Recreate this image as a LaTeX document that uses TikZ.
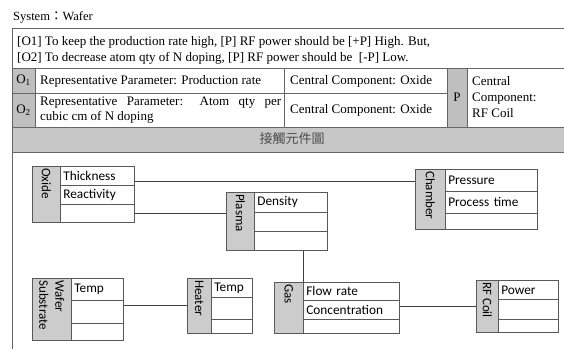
\documentclass[tikz,border=0pt]{standalone}
\usepackage{fontspec}
\setmainfont{Liberation Serif}
\newfontfamily\entfont{Carlito}
\newfontfamily\cjk{Noto Sans CJK TC}
\usepackage{tikz}

\begin{document}
\begin{tikzpicture}[x=1pt,y=-1pt,
		grid/.style={draw=black!60, line width=0.8pt},
		cell/.style={anchor=west, inner sep=0pt, font=\fontsize{13}{15}\selectfont},
		strip/.style={draw=black!65, fill=black!20, anchor=north west, inner sep=0pt, line width=0.7pt},
		row/.style={draw=black!65, anchor=north west, inner xsep=3pt, inner ysep=0pt, align=left, line width=0.7pt, font=\entfont\fontsize{13.3}{15}\selectfont},
		tag/.style={rotate=-90, anchor=west, inner sep=0pt, align=left, font=\entfont\fontsize{13}{16}\selectfont},
		link/.style={draw=black!75, line width=1pt}]
		\useasboundingbox (0,0) rectangle (564,349);

		% Title
		\node[cell, font=\fontsize{12.5}{14}\selectfont] (title) at (13,17) {System{\cjk ：}Wafer};

		% Table shading
		\fill[black!25] (12,68) rectangle (35,127);
		\fill[black!25] (447,68) rectangle (467,127);
		\fill[black!22] (12,127) rectangle (566,152);

		% Table lines
		\draw[grid] (12,349) -- (12,28) -- (566,28);
		\draw[grid] (12,68) -- (566,68);
		\draw[grid] (12,93) -- (447,93);
		\draw[grid] (12,127) -- (566,127);
		\draw[grid] (12,152) -- (566,152);
		\draw[grid] (35,68) -- (35,127);
		\draw[grid] (284,68) -- (284,127);
		\draw[grid] (447,68) -- (447,127);
		\draw[grid] (467,68) -- (467,127);

		% Table texts
		\node[cell, align=left, font=\fontsize{13}{16}\selectfont] (goal) at (17,50) {{[O1]} To keep the production rate high, [P] RF power should be [+P] High. But,\\{[O2]} To decrease atom qty of N doping, [P] RF power should be \ [-P] Low.};
		\node[cell, anchor=center] (o1) at (23.5,80.5) {O\textsubscript{1}};
		\node[cell, anchor=center] (o2) at (23.5,110) {O\textsubscript{2}};
		\node[cell] (par1) at (40,81) {Representative Parameter: Production rate};
		\node[cell, text width=241, align=justify] (par2) at (40,110) {Representative Parameter: Atom qty per\linebreak cubic cm of N doping};
		\node[cell] (comp1) at (290,81) {Central Component: Oxide};
		\node[cell] (comp2) at (290,110) {Central Component: Oxide};
		\node[cell, anchor=center] (p) at (457,97) {P};
		\node[cell, align=left, font=\fontsize{13}{16}\selectfont] (pcomp) at (472,97) {Central\\Component:\\RF Coil};
		\node[font=\cjk\fontsize{13}{15}\selectfont, text=black!70, inner sep=0pt] (header) at (292,139) {接觸元件圖};

		% Oxide
		\node[strip, minimum width=28, minimum height=56] (oxide) at (32,166) {};
		\node[tag] (oxideT) at ([yshift=-2pt]oxide.north) {Oxide};
		\node[row, text width=68, minimum height=19] (ox1) at (60,166) {Thickness};
		\node[row, text width=68, minimum height=19] (ox2) at (60,185) {Reactivity};
		\node[row, text width=68, minimum height=18] (ox3) at (60,204) {};

		% Chamber
		\node[strip, minimum width=30, minimum height=60] (chamber) at (415,169) {};
		\node[tag] (chamberT) at ([yshift=-2pt]chamber.north) {Chamber};
		\node[row, text width=86, minimum height=22] (ch1) at (445,169) {Pressure};
		\node[row, text width=86, minimum height=22] (ch2) at (445,191) {Process time};
		\node[row, text width=86, minimum height=16] (ch3) at (445,213) {};

		% Plasma
		\node[strip, minimum width=28, minimum height=58] (plasma) at (226,192) {};
		\node[tag] (plasmaT) at ([yshift=-2pt]plasma.north) {Plasma};
		\node[row, text width=67, minimum height=20] (pl1) at (254,192) {Density};
		\node[row, text width=67, minimum height=19] (pl2) at (254,212) {};
		\node[row, text width=67, minimum height=19] (pl3) at (254,231) {};

		% Wafer Substrate
		\node[strip, minimum width=39, minimum height=62] (wafer) at (32,278) {};
		\node[tag] (waferT) at ([yshift=-2pt]wafer.north) {Wafer\\Substrate};
		\node[row, text width=46, minimum height=22] (ws1) at (71,278) {Temp};
		\node[row, text width=46, minimum height=23] (ws2) at (71,300) {};
		\node[row, text width=46, minimum height=17] (ws3) at (71,323) {};

		% Heater
		\node[strip, minimum width=24, minimum height=55] (heater) at (187,278) {};
		\node[tag] (heaterT) at ([yshift=-2pt]heater.north) {Heater};
		\node[row, text width=35, minimum height=19] (he1) at (211,278) {Temp};
		\node[row, text width=35, minimum height=22] (he2) at (211,297) {};
		\node[row, text width=35, minimum height=14] (he3) at (211,319) {};

		% Gas
		\node[strip, minimum width=29, minimum height=51] (gas) at (274,282) {};
		\node[tag] (gasT) at ([yshift=-2pt]gas.north) {Gas};
		\node[row, text width=90, minimum height=18] (ga1) at (303,282) {Flow rate};
		\node[row, text width=90, minimum height=19] (ga2) at (303,300) {Concentration};
		\node[row, text width=90, minimum height=14] (ga3) at (303,319) {};

		% RF Coil
		\node[strip, minimum width=22, minimum height=52] (rfcoil) at (476,280) {};
		\node[tag] (rfcoilT) at ([yshift=-2pt]rfcoil.north) {RF Coil};
		\node[row, text width=54, minimum height=19] (rf1) at (498,280) {Power};
		\node[row, text width=54, minimum height=20] (rf2) at (498,299) {};
		\node[row, text width=54, minimum height=13] (rf3) at (498,319) {};

		% Contacts
		\coordinate (oxch) at ([yshift=4pt]ox1.south east);
		\draw[link] (oxch) -- (oxch -| chamber.west);
		\draw[link] (ox3.east) -- (ox3.east -| plasma.west);
		\draw[link] (ga1.north west |- pl3.south) -- (ga1.north west);
		\draw[link] (heater.west -| ws2.east) -- (heater.west);
		\draw[link] (rfcoil.west -| ga2.east) -- (rfcoil.west);
	\end{tikzpicture}
\end{document}
